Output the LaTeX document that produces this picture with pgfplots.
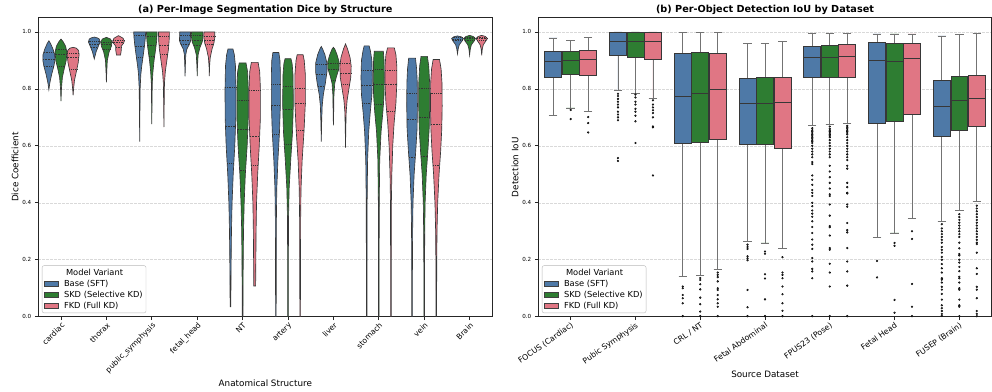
\documentclass[border=0pt]{standalone}
\usepackage{fontspec}
\setmainfont{DejaVu Sans}
\usepackage{pgfplots}
\pgfplotsset{compat=1.18}
\usepgfplotslibrary{statistics}

\definecolor{cblue}{RGB}{78,121,167}
\definecolor{cgreen}{RGB}{46,125,50}
\definecolor{cpink}{RGB}{224,118,132}
\definecolor{edge}{RGB}{55,55,55}

\pgfplotsset{
  vshape/.style={forget plot, draw=edge, line width=0.65bp},
  vmed/.style={forget plot, draw=black!80, line width=0.55bp, dash pattern=on 1.6bp off 1bp},
  vquart/.style={forget plot, draw=black!80, line width=0.5bp, dash pattern=on 1bp off 0.8bp},
  lg/.style={legend image code/.code={\draw[##1,sharp corners,draw=black!75,line width=0.5bp] (0bp,-2.6bp) rectangle (14bp,2.6bp);}},
  panel/.style={scale only axis, width=454bp, height=299bp, ymin=0, ymax=1.05, xmin=-0.5,
    ytick={0,0.2,0.4,0.6,0.8,1},
    ymajorgrids, major grid style={gray!30, dash pattern=on 2.5bp off 1.5bp, line width=0.5bp},
    tick align=outside, tick pos=left, major tick length=3.5bp,
    tick style={black!85, line width=0.7bp},
    axis line style={black!85, line width=0.8bp},
    yticklabel style={font=\fontsize{5.6bp}{6bp}\selectfont, /pgf/number format/.cd, fixed, fixed zerofill, precision=1, assume math mode=true},
    xticklabel style={font=\fontsize{7.6bp}{8bp}\selectfont, anchor=north east, inner sep=1bp},
    every axis title shift=0pt,
    title style={font=\fontsize{9.7bp}{11bp}\selectfont\bfseries, at={(0.5,1.026)}, anchor=center, yshift=0pt},
    xlabel style={font=\fontsize{8.8bp}{10bp}\selectfont, anchor=center},
    ylabel style={font=\fontsize{8.8bp}{10bp}\selectfont, at={(axis description cs:-0.0513,0.5)}, anchor=center},
    legend cell align=left,
    legend style={at={(0.008,0.012)}, anchor=south west, font=\fontsize{8.3bp}{9bp}\selectfont,
      draw=gray!55, rounded corners=2bp, inner sep=2bp, row sep=0.3bp,
      nodes={inner sep=1.4bp},
      /tikz/every odd column/.append style={column sep=4bp}},
  },
}

% violin: #1 x centre, #2 fill colour, #3 profile y/halfwidth (ascending y), #4 quartiles q1,median,q3
\newcommand\violin[4]{%
  \gdef\vR{}\gdef\vL{}%
  \foreach \yy/\ww in {#3}{%
    \pgfmathsetmacro\vxr{#1+\ww}%
    \pgfmathsetmacro\vxl{#1-\ww}%
    \xdef\vR{\vR(\vxr,\yy)}%
    \xdef\vL{(\vxl,\yy)\vL}%
  }%
  \edef\vtmp{\noexpand\addplot[vshape,fill=#2] coordinates {\vR\vL} -- cycle;}\vtmp
  \foreach \q [count=\qi] in {#4}{%
    \gdef\vpy{-1}\gdef\vpw{0}\gdef\vqw{0}%
    \foreach \yy/\ww in {#3}{%
      \pgfmathtruncatemacro\vok{(\q>=\vpy)*(\q<=\yy)}%
      \ifnum\vok=1
        \pgfmathsetmacro\vint{\vpw+(\ww-\vpw)*(\q-\vpy)/(\yy-\vpy)}%
        \xdef\vqw{\vint}%
      \fi
      \xdef\vpy{\yy}\xdef\vpw{\ww}%
    }%
    \pgfmathsetmacro\vxa{#1-\vqw}%
    \pgfmathsetmacro\vxb{#1+\vqw}%
    \edef\vtmp{\noexpand\addplot[\ifnum\qi=2 vmed\else vquart\fi] coordinates {(\vxa,\q)(\vxb,\q)};}\vtmp
  }%
}

% box: #1 position, #2 colour, #3 lower whisker, #4 Q1, #5 median, #6 Q3, #7 upper whisker
\newcommand\bx[7]{%
  \addplot[forget plot, fill=#2, draw=edge, line width=0.75bp,
    boxplot/draw direction=y,
    boxplot/every whisker/.style={draw=black!55},
    boxplot prepared={draw position=#1, lower whisker=#3, lower quartile=#4,
      median=#5, upper quartile=#6, upper whisker=#7}] coordinates {};%
}

\begin{document}
\begin{tikzpicture}
\useasboundingbox (0,0) rectangle (992bp,392bp);

% ---------------- (a) violins ----------------
\begin{axis}[panel, at={(38.3bp,75.3bp)}, anchor=south west, xmax=9.5,
  xtick={0,...,9},
  xticklabels={cardiac,thorax,public\_symphysis,fetal\_head,NT,artery,liver,stomach,vein,Brain},
  xticklabel style={rotate=45},
  title={(a) Per-Image Segmentation Dice by Structure},
  xlabel={Anatomical Structure}, xlabel style={at={(axis description cs:0.5,-0.221)}},
  ylabel={Dice Coefficient}]

% cardiac
\violin{-0.267}{cblue}{0.797/0.0, 0.82/0.02, 0.85/0.06, 0.88/0.11, 0.90/0.133, 0.92/0.13, 0.94/0.09, 0.96/0.035, 0.969/0.0}{0.880,0.905,0.930}
\violin{0}{cgreen}{0.757/0.0, 0.80/0.01, 0.84/0.03, 0.87/0.07, 0.90/0.115, 0.93/0.13, 0.95/0.1, 0.965/0.05, 0.975/0.0}{0.880,0.920,0.940}
\violin{0.267}{cpink}{0.777/0.0, 0.80/0.01, 0.83/0.03, 0.86/0.07, 0.89/0.11, 0.92/0.132, 0.935/0.12, 0.943/0.07, 0.946/0.0}{0.870,0.912,0.926}
% thorax
\violin{0.733}{cblue}{0.905/0.0, 0.93/0.04, 0.95/0.09, 0.965/0.129, 0.975/0.11, 0.979/0.07, 0.982/0.0}{0.945,0.958,0.968}
\violin{1}{cgreen}{0.823/0.0, 0.86/0.008, 0.90/0.02, 0.93/0.06, 0.95/0.11, 0.965/0.125, 0.975/0.09, 0.981/0.0}{0.940,0.955,0.965}
\violin{1.267}{cpink}{0.919/0.045, 0.935/0.06, 0.95/0.06, 0.96/0.11, 0.968/0.128, 0.978/0.1, 0.987/0.0}{0.945,0.962,0.970}
% public_symphysis
\violin{1.733}{cblue}{0.615/0.0, 0.70/0.004, 0.80/0.01, 0.85/0.025, 0.88/0.045, 0.92/0.08, 0.95/0.105, 0.98/0.125, 1.0/0.132}{0.911,0.949,0.987}
\violin{2}{cgreen}{0.676/0.0, 0.75/0.005, 0.82/0.01, 0.86/0.025, 0.90/0.05, 0.94/0.085, 0.97/0.108, 1.0/0.118}{0.915,0.953,0.985}
\violin{2.267}{cpink}{0.666/0.0, 0.75/0.006, 0.82/0.012, 0.86/0.03, 0.90/0.065, 0.94/0.1, 0.97/0.115, 1.0/0.121}{0.920,0.953,0.985}
% fetal_head
\violin{2.733}{cblue}{0.844/0.0, 0.88/0.006, 0.92/0.015, 0.94/0.04, 0.955/0.09, 0.97/0.125, 0.985/0.12, 1.0/0.118}{0.955,0.970,0.987}
\violin{3}{cgreen}{0.845/0.0, 0.88/0.006, 0.92/0.02, 0.945/0.06, 0.965/0.11, 0.985/0.13, 1.0/0.125}{0.952,0.972,0.990}
\violin{3.267}{cpink}{0.845/0.0, 0.88/0.006, 0.91/0.02, 0.94/0.06, 0.96/0.1, 0.98/0.121, 1.0/0.118}{0.955,0.972,0.985}
% NT
\violin{3.733}{cblue}{0.035/0.008, 0.1/0.01, 0.2/0.015, 0.3/0.022, 0.4/0.035, 0.5/0.06, 0.6/0.095, 0.7/0.118, 0.8/0.12, 0.88/0.11, 0.92/0.085, 0.94/0.055}{0.538,0.668,0.805}
\violin{4}{cgreen}{0.0/0.008, 0.1/0.01, 0.2/0.014, 0.3/0.02, 0.4/0.035, 0.5/0.06, 0.6/0.10, 0.7/0.125, 0.8/0.125, 0.86/0.11, 0.891/0.075}{0.516,0.659,0.760}
\violin{4.267}{cpink}{0.108/0.02, 0.2/0.025, 0.3/0.03, 0.4/0.04, 0.5/0.065, 0.6/0.10, 0.7/0.125, 0.8/0.125, 0.86/0.11, 0.893/0.075}{0.531,0.633,0.795}
% artery
\violin{4.733}{cblue}{0.0/0.006, 0.2/0.008, 0.35/0.012, 0.45/0.02, 0.55/0.045, 0.65/0.08, 0.75/0.1, 0.85/0.1, 0.90/0.09, 0.928/0.065}{0.641,0.743,0.817}
\violin{5}{cgreen}{0.0/0.006, 0.2/0.008, 0.35/0.012, 0.45/0.025, 0.55/0.06, 0.65/0.1, 0.75/0.118, 0.85/0.11, 0.89/0.09, 0.906/0.065}{0.607,0.727,0.809}
\violin{5.267}{cpink}{0.0/0.006, 0.2/0.008, 0.35/0.012, 0.45/0.02, 0.55/0.045, 0.65/0.085, 0.75/0.115, 0.85/0.115, 0.90/0.09, 0.920/0.065}{0.654,0.750,0.803}
% liver
\violin{5.733}{cblue}{0.615/0.0, 0.68/0.008, 0.74/0.02, 0.78/0.045, 0.82/0.09, 0.86/0.125, 0.89/0.125, 0.92/0.08, 0.94/0.03, 0.949/0.0}{0.809,0.850,0.887}
\violin{6}{cgreen}{0.672/0.0, 0.72/0.006, 0.78/0.012, 0.82/0.03, 0.845/0.07, 0.87/0.12, 0.895/0.125, 0.92/0.08, 0.94/0.03, 0.946/0.0}{0.832,0.870,0.891}
\violin{6.267}{cpink}{0.594/0.0, 0.66/0.006, 0.72/0.015, 0.76/0.035, 0.80/0.075, 0.84/0.115, 0.88/0.125, 0.91/0.1, 0.94/0.045, 0.958/0.0}{0.815,0.856,0.890}
% stomach
\violin{6.733}{cblue}{0.0/0.006, 0.2/0.007, 0.4/0.01, 0.55/0.02, 0.65/0.045, 0.72/0.08, 0.78/0.115, 0.84/0.125, 0.90/0.115, 0.935/0.08, 0.951/0.055}{0.750,0.812,0.867}
\violin{7}{cgreen}{0.0/0.006, 0.2/0.007, 0.4/0.01, 0.55/0.02, 0.65/0.05, 0.72/0.09, 0.78/0.115, 0.84/0.12, 0.90/0.115, 0.932/0.1}{0.747,0.817,0.870}
\violin{7.267}{cpink}{0.0/0.006, 0.2/0.007, 0.4/0.01, 0.5/0.02, 0.6/0.04, 0.68/0.07, 0.75/0.11, 0.82/0.13, 0.88/0.13, 0.92/0.11, 0.944/0.075}{0.723,0.815,0.864}
% vein
\violin{7.733}{cblue}{0.0/0.006, 0.15/0.007, 0.3/0.012, 0.4/0.02, 0.5/0.045, 0.58/0.08, 0.66/0.11, 0.74/0.118, 0.82/0.115, 0.87/0.1, 0.908/0.075}{0.559,0.694,0.786}
\violin{8}{cgreen}{0.0/0.006, 0.15/0.007, 0.3/0.012, 0.4/0.02, 0.5/0.045, 0.58/0.08, 0.66/0.11, 0.74/0.121, 0.82/0.12, 0.88/0.1, 0.914/0.07}{0.565,0.701,0.803}
\violin{8.267}{cpink}{0.0/0.006, 0.15/0.008, 0.3/0.015, 0.4/0.03, 0.5/0.06, 0.58/0.095, 0.66/0.12, 0.74/0.129, 0.82/0.125, 0.87/0.105, 0.903/0.07}{0.531,0.676,0.786}
% Brain
\violin{8.733}{cblue}{0.923/0.0, 0.94/0.015, 0.955/0.04, 0.968/0.1, 0.977/0.129, 0.983/0.08, 0.986/0.0}{0.970,0.975,0.980}
\violin{9}{cgreen}{0.918/0.0, 0.94/0.015, 0.955/0.04, 0.968/0.1, 0.977/0.13, 0.984/0.08, 0.988/0.0}{0.970,0.976,0.981}
\violin{9.267}{cpink}{0.918/0.0, 0.94/0.012, 0.955/0.035, 0.968/0.09, 0.977/0.125, 0.984/0.08, 0.988/0.0}{0.970,0.976,0.980}

\addlegendimage{empty legend}\addlegendentry{\hspace*{2bp}Model Variant}
\addlegendimage{lg, fill=cblue}\addlegendentry{Base (SFT)}
\addlegendimage{lg, fill=cgreen}\addlegendentry{SKD (Selective KD)}
\addlegendimage{lg, fill=cpink}\addlegendentry{FKD (Full KD)}
\end{axis}

% ---------------- (b) boxplots ----------------
\begin{axis}[panel, at={(538.3bp,75.3bp)}, anchor=south west, width=453.4bp, xmax=6.5,
  xtick={0,...,6},
  xticklabels={FOCUS (Cardiac),Pubic Symphysis,CRL / NT,Fetal Abdominal,FPUS23 (Pose),Fetal Head,FUSEP (Brain)},
  xticklabel style={rotate=35, font=\fontsize{7.8bp}{8bp}\selectfont},
  boxplot/box extend=0.26, boxplot/whisker extend=0.13,
  title={(b) Per-Object Detection IoU by Dataset},
  xlabel={Source Dataset}, xlabel style={at={(axis description cs:0.5,-0.192)}},
  ylabel={Detection IoU}]

\bx{-0.27}{cblue}{0.708}{0.841}{0.896}{0.930}{0.979}
\bx{0}{cgreen}{0.733}{0.852}{0.899}{0.932}{0.970}
\bx{0.27}{cpink}{0.722}{0.848}{0.904}{0.937}{0.981}
\bx{0.73}{cblue}{0.796}{0.917}{0.968}{1.0}{1.0}
\bx{1}{cgreen}{0.783}{0.911}{0.968}{1.0}{1.0}
\bx{1.27}{cpink}{0.767}{0.905}{0.968}{1.0}{1.0}
\bx{1.73}{cblue}{0.142}{0.607}{0.774}{0.926}{0.998}
\bx{2}{cgreen}{0.146}{0.613}{0.784}{0.928}{0.998}
\bx{2.27}{cpink}{0.167}{0.621}{0.797}{0.926}{0.999}
\bx{2.73}{cblue}{0.265}{0.606}{0.748}{0.838}{0.961}
\bx{3}{cgreen}{0.259}{0.606}{0.748}{0.842}{0.961}
\bx{3.27}{cpink}{0.240}{0.591}{0.754}{0.842}{0.966}
\bx{3.73}{cblue}{0.673}{0.841}{0.911}{0.951}{0.995}
\bx{4}{cgreen}{0.676}{0.841}{0.911}{0.953}{0.995}
\bx{4.27}{cpink}{0.678}{0.841}{0.914}{0.955}{0.996}
\bx{4.73}{cblue}{0.277}{0.678}{0.900}{0.964}{0.993}
\bx{5}{cgreen}{0.294}{0.686}{0.896}{0.960}{0.993}
\bx{5.27}{cpink}{0.346}{0.709}{0.906}{0.961}{0.993}
\bx{5.73}{cblue}{0.335}{0.633}{0.739}{0.831}{0.986}
\bx{6}{cgreen}{0.372}{0.653}{0.761}{0.844}{0.992}
\bx{6.27}{cpink}{0.405}{0.668}{0.768}{0.849}{0.994}

\addplot[forget plot, only marks, mark=*, mark size=0.9bp, mark options={draw=none, fill=black!65}] coordinates {
(0,0.726)(0,0.694)(0.27,0.701)(0.27,0.680)(0.27,0.647)
(0.73,0.783)(0.73,0.775)(0.73,0.765)(0.73,0.755)(0.73,0.745)(0.73,0.735)(0.73,0.720)(0.73,0.710)(0.73,0.700)(0.73,0.690)(0.73,0.557)(0.73,0.547)
(1,0.780)(1,0.770)(1,0.755)(1,0.745)(1,0.730)(1,0.720)(1,0.706)(1,0.686)(1,0.610)
(1.27,0.760)(1.27,0.745)(1.27,0.735)(1.27,0.725)(1.27,0.715)(1.27,0.700)(1.27,0.668)(1.27,0.665)(1.27,0.496)
(1.73,0.106)(1.73,0.100)(1.73,0.076)(1.73,0.065)(1.73,0.047)(1.73,0.002)
(2,0.136)(2,0.129)(2,0.114)(2,0.096)(2,0.067)(2,0.044)(2,0.018)(2,0.002)
(2.27,0.155)(2.27,0.147)(2.27,0.139)(2.27,0.124)(2.27,0.100)(2.27,0.094)(2.27,0.076)(2.27,0.061)(2.27,0.047)(2.27,0.035)(2.27,0.002)
(2.73,0.253)(2.73,0.245)(2.73,0.238)(2.73,0.212)(2.73,0.205)(2.73,0.198)(2.73,0.094)(2.73,0.033)(2.73,0.002)
(3,0.229)(3,0.221)(3,0.149)(3,0.134)(3,0.061)(3,0.002)
(3.27,0.209)(3.27,0.155)(3.27,0.147)(3.27,0.135)(3.27,0.106)(3.27,0.079)(3.27,0.047)(3.27,0.021)(3.27,0.002)
(3.73,0.662)(3.73,0.655)(3.73,0.650)(3.73,0.645)(3.73,0.640)(3.73,0.635)(3.73,0.630)(3.73,0.625)(3.73,0.620)(3.73,0.615)(3.73,0.610)(3.73,0.600)(3.73,0.590)(3.73,0.580)(3.73,0.570)(3.73,0.560)(3.73,0.543)(3.73,0.536)(3.73,0.496)(3.73,0.481)(3.73,0.463)(3.73,0.445)(3.73,0.435)(3.73,0.424)(3.73,0.400)(3.73,0.388)(3.73,0.373)(3.73,0.362)(3.73,0.351)(3.73,0.335)(3.73,0.315)(3.73,0.294)(3.73,0.271)(3.73,0.253)(3.73,0.238)(3.73,0.206)(3.73,0.194)(3.73,0.168)(3.73,0.159)(3.73,0.135)(3.73,0.002)
(4,0.668)(4,0.660)(4,0.655)(4,0.650)(4,0.645)(4,0.640)(4,0.635)(4,0.630)(4,0.620)(4,0.610)(4,0.600)(4,0.590)(4,0.580)(4,0.570)(4,0.560)(4,0.530)(4,0.510)(4,0.490)(4,0.470)(4,0.450)(4,0.430)(4,0.424)(4,0.394)(4,0.355)(4,0.318)(4,0.314)(4,0.285)(4,0.241)(4,0.235)(4,0.186)(4,0.155)(4,0.106)(4,0.002)
(4.27,0.670)(4.27,0.665)(4.27,0.660)(4.27,0.655)(4.27,0.650)(4.27,0.645)(4.27,0.640)(4.27,0.630)(4.27,0.620)(4.27,0.610)(4.27,0.600)(4.27,0.590)(4.27,0.580)(4.27,0.570)(4.27,0.560)(4.27,0.550)(4.27,0.530)(4.27,0.520)(4.27,0.470)(4.27,0.455)(4.27,0.435)(4.27,0.433)(4.27,0.394)(4.27,0.386)(4.27,0.329)(4.27,0.304)(4.27,0.296)(4.27,0.241)(4.27,0.194)(4.27,0.159)(4.27,0.109)(4.27,0.002)
(4.73,0.196)(4.73,0.138)
(5,0.259)(5,0.249)(5,0.059)(5,0.014)
(5.27,0.300)(5.27,0.273)(5.27,0.115)(5.27,0.035)(5.27,0.002)
(5.73,0.325)(5.73,0.310)(5.73,0.300)(5.73,0.290)(5.73,0.280)(5.73,0.270)(5.73,0.260)(5.73,0.245)(5.73,0.235)(5.73,0.225)(5.73,0.210)(5.73,0.200)(5.73,0.185)(5.73,0.170)(5.73,0.155)(5.73,0.135)(5.73,0.130)(5.73,0.120)(5.73,0.105)(5.73,0.095)(5.73,0.080)(5.73,0.060)(5.73,0.040)(5.73,0.030)(5.73,0.020)(5.73,0.010)(5.73,0.003)
(6,0.360)(6,0.350)(6,0.340)(6,0.330)(6,0.320)(6,0.310)(6,0.300)(6,0.290)(6,0.280)(6,0.260)(6,0.240)(6,0.220)(6,0.215)(6,0.200)(6,0.190)(6,0.175)(6,0.160)(6,0.140)(6,0.135)(6,0.120)(6,0.100)(6,0.095)(6,0.060)(6,0.040)(6,0.035)(6,0.002)
(6.27,0.390)(6.27,0.380)(6.27,0.370)(6.27,0.360)(6.27,0.350)(6.27,0.340)(6.27,0.330)(6.27,0.320)(6.27,0.310)(6.27,0.300)(6.27,0.290)(6.27,0.280)(6.27,0.270)(6.27,0.260)(6.27,0.255)(6.27,0.225)(6.27,0.170)(6.27,0.150)(6.27,0.105)(6.27,0.095)(6.27,0.065)(6.27,0.020)(6.27,0.010)(6.27,0.002)
};

\addlegendimage{empty legend}\addlegendentry{\hspace*{2bp}Model Variant}
\addlegendimage{lg, fill=cblue}\addlegendentry{Base (SFT)}
\addlegendimage{lg, fill=cgreen}\addlegendentry{SKD (Selective KD)}
\addlegendimage{lg, fill=cpink}\addlegendentry{FKD (Full KD)}
\end{axis}
\end{tikzpicture}
\end{document}
